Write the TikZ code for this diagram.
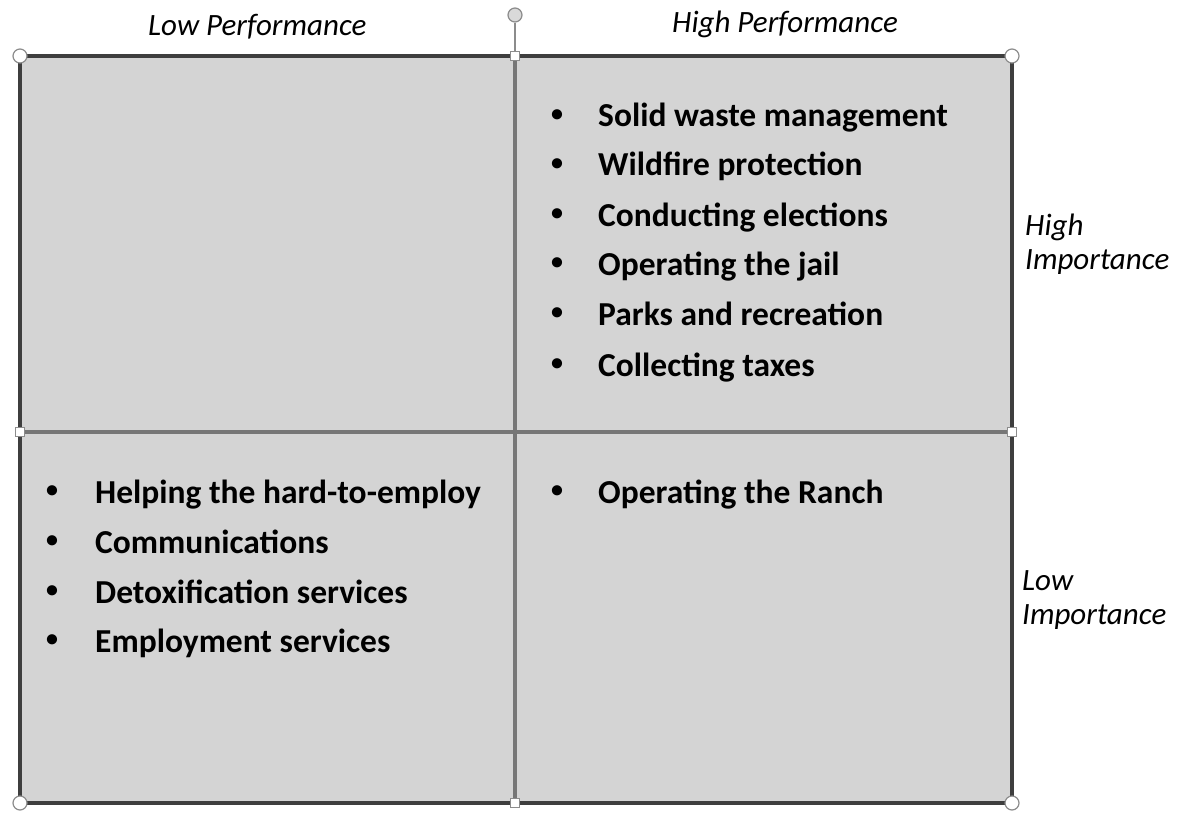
\documentclass[tikz,border=0pt]{standalone}
\usepackage{fontspec}
\setmainfont{Carlito}
\usetikzlibrary{positioning}
\definecolor{quadgray}{RGB}{212,212,212}
\definecolor{framegray}{RGB}{62,62,62}
\definecolor{splitgray}{RGB}{118,118,118}
\definecolor{gripgray}{RGB}{140,140,140}

\begin{document}
\begin{tikzpicture}[x=1pt,y=-1pt,
    frame/.style={draw=framegray,line width=3.5pt},
    split/.style={draw=splitgray,line width=4.5pt},
    grip/.style={draw=gripgray,fill=white,line width=1pt,minimum size=9pt,inner sep=0pt},
    knob/.style={circle,draw=gripgray,fill=white,line width=1.2pt,minimum size=14pt,inner sep=0pt},
    item/.style={anchor=base west,inner sep=0pt,font=\fontsize{33.5}{40}\selectfont\bfseries},
    dot/.style={anchor=center,inner sep=0pt,font=\fontsize{24}{28}\selectfont\bfseries},
    axislabel/.style={anchor=base west,inner sep=0pt,font=\fontsize{31}{36}\selectfont\itshape}
]
\useasboundingbox (0,0) rectangle (1180,813);

% corners and middles of the grid
\coordinate (nw) at (20,56);
\coordinate (ne) at (1012,56);
\coordinate (sw) at (20,803);
\coordinate (se) at (1012,803);
\coordinate (n) at (515,56);
\coordinate (s) at (515,803);
\coordinate (w) at (20,432);
\coordinate (e) at (1012,432);

\fill[quadgray] (nw) rectangle (se);
\draw[split] (n) -- (s);
\draw[split] (w) -- (e);
\draw[frame] (nw) rectangle (se);

% selection handles
\foreach \c in {nw,ne,sw,se} {
    \node[knob] (k\c) at (\c) {};
}
\foreach \c in {n,s,w,e} {
    \node[grip] (g\c) at (\c) {};
}
\node[knob,fill=gray!30] (rot) at (515,15) {};
\draw[gripgray,line width=1.2pt] (rot) -- (gn);

% axis labels
\node[axislabel] (lowperf) at (148,36) {Low Performance};
\node[axislabel] (highperf) at (672,33) {High Performance};
\node[axislabel] (highimp) at (1025,235) {High};
\node[axislabel] (highimp2) at (1025,269) {Importance};
\node[axislabel] (lowimp) at (1022,590) {Low};
\node[axislabel] (lowimp2) at (1022,624) {Importance};

% high performance, high importance
\foreach \y/\t in {127/Solid waste management,176/Wildfire protection,226/Conducting elections,275/Operating the jail,325/Parks and recreation,376/Collecting taxes} {
    \node[dot] (hb\y) at (557,\y-11) {\textbullet};
    \node[item] (hi\y) at (598,\y) {\t};
}

% low performance, low importance
\foreach \y/\t in {503/Helping the hard-to-employ,553/Communications,603/Detoxification services,652/Employment services} {
    \node[dot] (lb\y) at (52,\y-11) {\textbullet};
    \node[item] (li\y) at (95,\y) {\t};
}

% high performance, low importance
\node[dot] (rb) at (557,492) {\textbullet};
\node[item] (ranch) at (598,503) {Operating the Ranch};
\end{tikzpicture}
\end{document}
